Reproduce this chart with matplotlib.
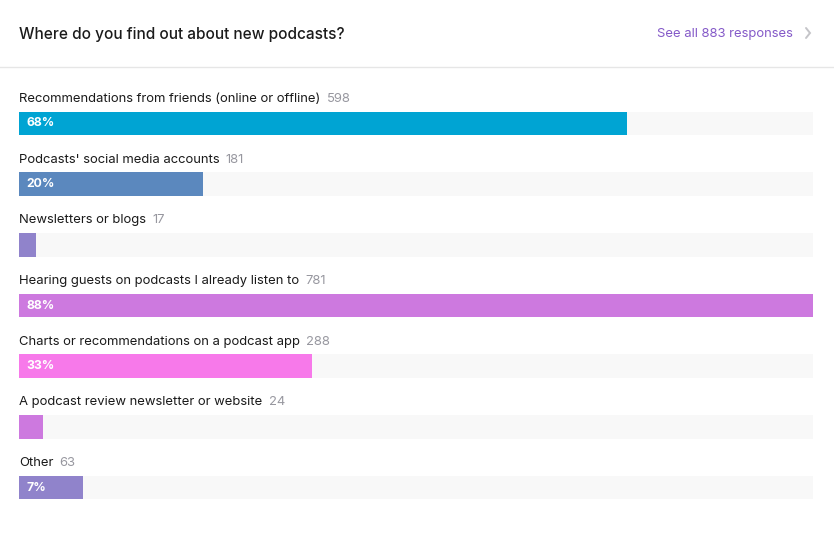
import matplotlib
matplotlib.use("Agg")
import matplotlib.pyplot as plt

# Data
title = "Where do you find out about new podcasts?"
total_responses = 883
categories = [
    "Recommendations from friends (online or offline)",
    "Podcasts' social media accounts",
    "Newsletters or blogs",
    "Hearing guests on podcasts I already listen to",
    "Charts or recommendations on a podcast app",
    "A podcast review newsletter or website",
    "Other",
]
counts = [598, 181, 17, 781, 288, 24, 63]
colors = ["#00a4d3", "#5b88be", "#9083cb", "#cd79df", "#f779ea", "#cd79df", "#9083cb"]

W, H = 834, 533
plt.rcParams['font.family'] = ['Inter', 'DejaVu Sans']

fig = plt.figure(figsize=(W / 100, H / 100), dpi=100)
fig.patch.set_facecolor("white")

# overlay axes in pixel coordinates for header
bg = fig.add_axes([0, 0, 1, 1])
bg.set_xlim(0, W)
bg.set_ylim(H, 0)
bg.axis("off")
bg.text(19, 34.5, title, fontsize=11.1, fontweight="medium", color="#1b1b1b",
        va="center", ha="left")
bg.text(793, 33.5, f"See all {total_responses} responses", fontsize=9.4,
        color="#8459c8", va="center", ha="right")
bg.plot([806, 810, 806], [28, 33, 38], color="#c4c4c8", lw=1.4,
        solid_capstyle="round", solid_joinstyle="miter")
bg.axhline(66.5, color="#e6e6e6", lw=1)

# bar axes
pitch = 60.67
top_c, n = 123.5, len(categories)
ax_top = top_c - pitch / 2
ax_bot = top_c + (n - 1) * pitch + pitch / 2
x0, x1 = 19, 813
ax = fig.add_axes([x0 / W, 1 - ax_bot / H, (x1 - x0) / W, (ax_bot - ax_top) / H])
ax.axis("off")
vmax = max(counts)
ax.set_xlim(0, vmax)
ax.set_ylim(n - 0.5, -0.5)

bh = 23.5 / pitch
ypos = list(range(n))
ax.barh(ypos, [vmax] * n, height=bh, color="#f8f8f8", zorder=1)
ax.barh(ypos, counts, height=bh, color=colors, zorder=2)

for i, (cat, c) in enumerate(zip(categories, counts)):
    t = ax.text(0, i - 24.5 / pitch, cat, fontsize=9.4, color="#1a1a1a",
                va="center", ha="left", clip_on=False)
    ax.annotate(str(c), xy=(1, 0.5), xycoords=t, xytext=(4.5, 0),
                textcoords="offset points", fontsize=9.4, color="#97979f",
                va="center", ha="left")
    pct = round(c / total_responses * 100)
    if c / vmax * (x1 - x0) > 40:
        ax.annotate(f"{pct}%", xy=(0, i), xytext=(5.5, 0), textcoords="offset points",
                    fontsize=8.8, fontweight="bold", color="white",
                    va="center", ha="left", zorder=3)

fig.savefig("out.png", dpi=100, facecolor="white")
